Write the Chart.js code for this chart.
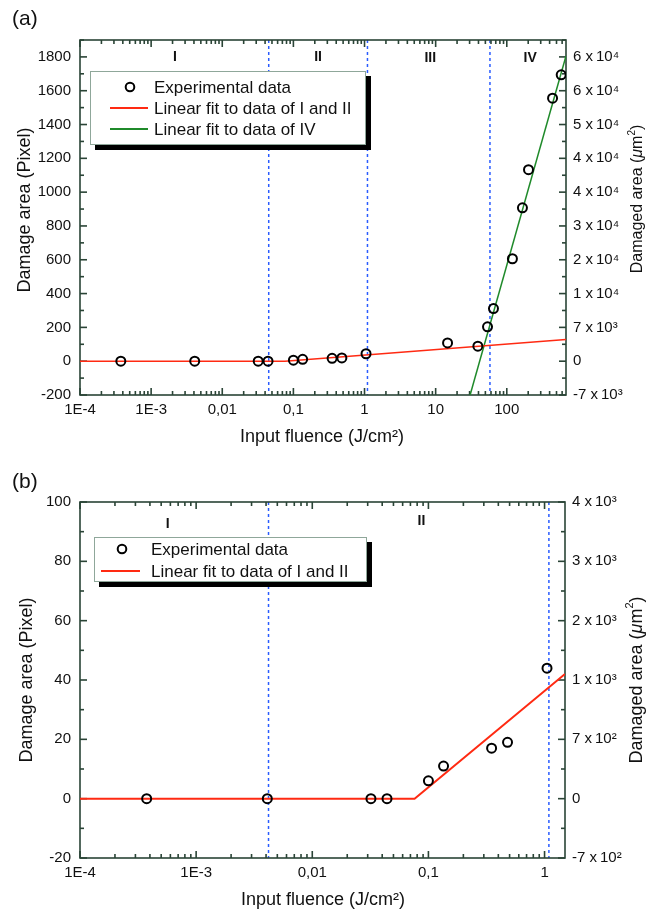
<!DOCTYPE html>
<html>
<head>
<meta charset="utf-8">
<script src="https://cdn.jsdelivr.net/npm/chart.js@4.4.0/dist/chart.umd.min.js"></script>
<style>
  html, body { margin: 0; padding: 0; background: #ffffff; }
  #wrap { position: relative; width: 661px; height: 913px; overflow: hidden; }
  canvas { position: absolute; left: 0; }
</style>
</head>
<body>
<div id="wrap">
  <canvas id="chartA" width="661" height="456" style="top:0px"></canvas>
  <canvas id="chartB" width="661" height="457" style="top:456px"></canvas>
</div>
<script>
// ---------------- data ----------------
const fluence  = [3.75e-4, 4.1e-3, 0.032, 0.044, 0.100, 0.135, 0.35, 0.48, 1.05, 14.7, 39.2, 53.6, 65, 120, 166, 202, 440, 582];
const damagePx = [0, 0, 0, 0, 6, 11, 17, 19, 44, 108, 89, 203, 311, 606, 907, 1133, 1556, 1694];

const fitI_II_A_x = [1e-4, 0.076, 680];
const fitI_II_A_y = [0, 0, 128];
const fitIV_x = [30.5, 680];
const fitIV_y = [-200, 1806];
const fitI_II_B_x = [1e-4, 0.076, 1.5];
const fitI_II_B_y = [0, 0, 42];

const boundsA = [0.045, 1.1, 58];
const boundsB = [0.0042, 1.09];
const regionNamesA = ['I', 'II', 'III', 'IV'];
const regionNamesB = ['I', 'II'];

const xTicksA = [1e-4, 1e-3, 0.01, 0.1, 1, 10, 100];
const xLabelsA = ['1E-4', '1E-3', '0,01', '0,1', '1', '10', '100'];
const xTicksB = [1e-4, 1e-3, 0.01, 0.1, 1];
const xLabelsB = ['1E-4', '1E-3', '0,01', '0,1', '1'];

const yTicksA = [-200, 0, 200, 400, 600, 800, 1000, 1200, 1400, 1600, 1800];
const yRightLabelsA = ['-7 x\u200910\u00B3', '0', '7 x\u200910\u00B3', '1 x\u200910\u2074', '2 x\u200910\u2074', '3 x\u200910\u2074',
                       '4 x\u200910\u2074', '4 x\u200910\u2074', '5 x\u200910\u2074', '6 x\u200910\u2074', '6 x\u200910\u2074'];
const yTicksB = [-20, 0, 20, 40, 60, 80, 100];
const yRightLabelsB = ['-7 x\u200910\u00B2', '0', '7 x\u200910\u00B2', '1 x\u200910\u00B3', '2 x\u200910\u00B3', '3 x\u200910\u00B3', '4 x\u200910\u00B3'];

const legendLabels = ['Experimental data', 'Linear fit to data of I and II', 'Linear fit to data of IV'];
const xTitle = 'Input fluence (J/cm\u00B2)';
const yTitle = 'Damage area (Pixel)';

// ---------------- styling ----------------
const FONT = '"Liberation Sans", Arial, Helvetica, sans-serif';
const AXIS = '#2a4436';
const TXT = '#111111';
const RED = '#ff2a12';
const GREEN = '#1f8a2a';
const BLUE = '#2a5cff';

function pts(xs, ys, maxX) {
  const out = [];
  for (let i = 0; i < xs.length; i++) if (maxX === undefined || xs[i] <= maxX) out.push({x: xs[i], y: ys[i]});
  return out;
}

function drawRightTitle(ctx, cx, cy, size) {
  const parts = [
    {t: 'Damaged area (', f: `${size}px ${FONT}`, dy: 0},
    {t: '\u03BC', f: `italic ${size}px ${FONT}`, dy: 0},
    {t: 'm', f: `${size}px ${FONT}`, dy: 0},
    {t: '2', f: `${Math.round(size * 0.6)}px ${FONT}`, dy: -size * 0.38},
    {t: ')', f: `${size}px ${FONT}`, dy: 0}
  ];
  let total = 0;
  parts.forEach(p => { ctx.font = p.f; p.w = ctx.measureText(p.t).width; total += p.w; });
  ctx.save();
  ctx.translate(cx, cy);
  ctx.rotate(-Math.PI / 2);
  ctx.textAlign = 'left';
  ctx.textBaseline = 'middle';
  ctx.fillStyle = TXT;
  let x = -total / 2;
  parts.forEach(p => { ctx.font = p.f; ctx.fillText(p.t, x, p.dy); x += p.w; });
  ctx.restore();
}

function decoPlugin(spec) {
  const seg = (ctx, x1, y1, x2, y2) => { ctx.beginPath(); ctx.moveTo(x1, y1); ctx.lineTo(x2, y2); ctx.stroke(); };
  return {
    id: 'deco',
    beforeDatasetsDraw(chart) {
      const {ctx, chartArea: a, scales: {x, y}} = chart;
      ctx.save();
      // region boundaries (dotted blue)
      ctx.save();
      ctx.beginPath();
      ctx.rect(a.left, a.top, a.right - a.left, a.bottom - a.top);
      ctx.clip();
      ctx.strokeStyle = BLUE;
      ctx.lineWidth = 1.5;
      ctx.setLineDash([3, 3]);
      spec.bounds.forEach(b => {
        const px = x.getPixelForValue(b);
        seg(ctx, px, a.top, px, a.bottom);
      });
      ctx.restore();
      // frame
      ctx.strokeStyle = AXIS;
      ctx.lineWidth = 1.6;
      ctx.setLineDash([]);
      ctx.strokeRect(a.left, a.top, a.right - a.left, a.bottom - a.top);
      // x ticks (inside, top and bottom)
      const k0 = Math.floor(Math.log10(x.min)), k1 = Math.ceil(Math.log10(x.max));
      for (let k = k0; k <= k1; k++) {
        for (let m = 1; m <= 9; m++) {
          const v = m * Math.pow(10, k);
          if (v < x.min * 0.999 || v > x.max * 1.001) continue;
          const px = x.getPixelForValue(v);
          const len = m === 1 ? 7 : 4;
          seg(ctx, px, a.bottom, px, a.bottom - len);
          seg(ctx, px, a.top, px, a.top + len);
        }
      }
      // y ticks (inside, left and right)
      for (let v = spec.yMin; v <= spec.yTop + 1e-9; v += spec.yMinor) {
        const py = y.getPixelForValue(v);
        const major = Math.abs((v - spec.yMin) % spec.yMajor) < 1e-6;
        const len = major ? 7 : 4;
        seg(ctx, a.left, py, a.left + len, py);
        seg(ctx, a.right, py, a.right - len, py);
      }
      ctx.restore();
    },
    afterDatasetsDraw(chart) {
      const {ctx, chartArea: a, scales: {x}} = chart;
      ctx.save();
      // region labels
      ctx.fillStyle = TXT;
      ctx.font = `bold 14px ${FONT}`;
      ctx.textAlign = 'center';
      ctx.textBaseline = 'middle';
      spec.regions.forEach(r => ctx.fillText(r.name, x.getPixelForValue(r.x), a.top + r.dy));
      // legend
      const L = spec.legend;
      ctx.fillStyle = '#000';
      ctx.fillRect(L.x + 5, L.y + 5, L.w, L.h);
      ctx.fillStyle = '#fff';
      ctx.fillRect(L.x, L.y, L.w, L.h);
      ctx.strokeStyle = '#8fa79a';
      ctx.lineWidth = 1;
      ctx.strokeRect(L.x + 0.5, L.y + 0.5, L.w - 1, L.h - 1);
      ctx.font = `17px ${FONT}`;
      ctx.textAlign = 'left';
      ctx.textBaseline = 'middle';
      L.rows.forEach(r => {
        if (r.kind === 'circle') {
          ctx.strokeStyle = '#000';
          ctx.lineWidth = 2;
          ctx.beginPath();
          ctx.arc(L.symX, r.y, 4.3, 0, Math.PI * 2);
          ctx.stroke();
        } else {
          ctx.strokeStyle = r.color;
          ctx.lineWidth = 2;
          seg(ctx, L.lineX[0], r.y, L.lineX[1], r.y);
        }
        ctx.fillStyle = TXT;
        ctx.fillText(r.text, L.textX, r.y + 1);
      });
      // panel label
      ctx.font = `21px ${FONT}`;
      ctx.fillStyle = TXT;
      ctx.textAlign = 'left';
      ctx.fillText(spec.panel, 12, spec.panelY);
      // axis titles
      ctx.font = `18px ${FONT}`;
      ctx.textAlign = 'center';
      ctx.fillText(xTitle, spec.xTitle[0], spec.xTitle[1]);
      ctx.save();
      ctx.translate(spec.yTitle[0], spec.yTitle[1]);
      ctx.rotate(-Math.PI / 2);
      ctx.fillText(yTitle, 0, 0);
      ctx.restore();
      drawRightTitle(ctx, spec.rTitle[0], spec.rTitle[1], spec.rTitle[2]);
      ctx.restore();
    }
  };
}

function makeChart(id, s) {
  const tickFont = {family: FONT, size: 15};
  const fixedTicks = vals => (scale) => { scale.ticks = vals.map(v => ({value: v})); };
  return new Chart(document.getElementById(id), {
    type: 'scatter',
    data: { datasets: s.datasets },
    options: {
      responsive: false,
      animation: false,
      devicePixelRatio: 1,
      events: [],
      layout: { padding: { top: s.area.top, left: 0, right: 0, bottom: 0 } },
      plugins: { legend: { display: false }, tooltip: { enabled: false }, title: { display: false } },
      scales: {
        x: {
          type: 'logarithmic', position: 'bottom', min: s.xMin, max: s.xMax, bounds: 'data',
          afterBuildTicks: fixedTicks(s.xTicks),
          afterFit: sc => { sc.height = s.H - s.area.bottom; },
          grid: { display: false, drawTicks: false }, border: { display: false },
          ticks: { callback: (v, i) => s.xLabels[i], font: tickFont, color: TXT, padding: 6, maxRotation: 0, autoSkip: false }
        },
        y: {
          type: 'linear', position: 'left', min: s.yMin, max: s.yMax, bounds: 'data',
          afterBuildTicks: fixedTicks(s.yTicks),
          afterFit: sc => { sc.width = s.area.left; },
          grid: { display: false, drawTicks: false }, border: { display: false },
          ticks: { callback: v => String(v), font: tickFont, color: TXT, padding: 9, autoSkip: false }
        },
        y2: {
          type: 'linear', position: 'right', min: s.yMin, max: s.yMax, bounds: 'data',
          afterBuildTicks: fixedTicks(s.yTicks),
          afterFit: sc => { sc.width = 661 - s.area.right; },
          grid: { display: false, drawTicks: false }, border: { display: false },
          ticks: { callback: (v, i) => s.yRight[i], font: tickFont, color: TXT, padding: 7, autoSkip: false }
        }
      }
    },
    plugins: [decoPlugin(s.deco)]
  });
}

const circleStyle = {
  type: 'scatter', pointStyle: 'circle', pointRadius: 4.5, pointBorderWidth: 2,
  borderColor: '#000', pointBorderColor: '#000', backgroundColor: 'rgba(0,0,0,0)', pointBackgroundColor: 'rgba(0,0,0,0)', clip: 0
};
const lineStyle = (color, w) => ({ type: 'line', borderColor: color, borderWidth: w, pointRadius: 0, fill: false, tension: 0, clip: 0, showLine: true });

// ---------- panel (a) ----------
makeChart('chartA', {
  H: 456, area: { top: 40, bottom: 395, left: 80, right: 566 },
  xMin: 1e-4, xMax: 680, yMin: -200, yMax: 1900,
  xTicks: xTicksA, xLabels: xLabelsA, yTicks: yTicksA, yRight: yRightLabelsA,
  datasets: [
    Object.assign({ label: legendLabels[0], data: pts(fluence, damagePx) }, circleStyle),
    Object.assign({ label: legendLabels[1], data: pts(fitI_II_A_x, fitI_II_A_y) }, lineStyle(RED, 1.5)),
    Object.assign({ label: legendLabels[2], data: pts(fitIV_x, fitIV_y) }, lineStyle(GREEN, 1.5))
  ],
  deco: {
    bounds: boundsA, yMin: -200, yTop: 1900, yMajor: 200, yMinor: 100,
    regions: [
      { name: regionNamesA[0], x: 2.17e-3, dy: 17 },
      { name: regionNamesA[1], x: 0.222, dy: 17 },
      { name: regionNamesA[2], x: 8.4, dy: 18 },
      { name: regionNamesA[3], x: 213, dy: 18 }
    ],
    legend: {
      x: 90, y: 71, w: 276, h: 74, symX: 130, lineX: [110, 148], textX: 154,
      rows: [
        { kind: 'circle', y: 87, text: legendLabels[0] },
        { kind: 'line', color: RED, y: 108, text: legendLabels[1] },
        { kind: 'line', color: GREEN, y: 129, text: legendLabels[2] }
      ]
    },
    panel: '(a)', panelY: 19,
    xTitle: [322, 437], yTitle: [25, 210], rTitle: [638, 199, 16]
  }
});

// ---------- panel (b) ----------
makeChart('chartB', {
  H: 457, area: { top: 46, bottom: 402, left: 80, right: 565 },
  xMin: 1e-4, xMax: 1.5, yMin: -20, yMax: 100,
  xTicks: xTicksB, xLabels: xLabelsB, yTicks: yTicksB, yRight: yRightLabelsB,
  datasets: [
    Object.assign({ label: legendLabels[0], data: pts(fluence, damagePx, 1.5) }, circleStyle),
    Object.assign({ label: legendLabels[1], data: pts(fitI_II_B_x, fitI_II_B_y) }, lineStyle(RED, 2))
  ],
  deco: {
    bounds: boundsB, yMin: -20, yTop: 100, yMajor: 20, yMinor: 10,
    regions: [
      { name: regionNamesB[0], x: 5.7e-4, dy: 22 },
      { name: regionNamesB[1], x: 0.087, dy: 19 }
    ],
    legend: {
      x: 94, y: 81, w: 273, h: 45, symX: 122, lineX: [101, 140], textX: 151,
      rows: [
        { kind: 'circle', y: 93, text: legendLabels[0] },
        { kind: 'line', color: RED, y: 115, text: legendLabels[1] }
      ]
    },
    panel: '(b)', panelY: 26,
    xTitle: [323, 444], yTitle: [27, 224], rTitle: [637, 224, 18]
  }
});
</script>
</body>
</html>
